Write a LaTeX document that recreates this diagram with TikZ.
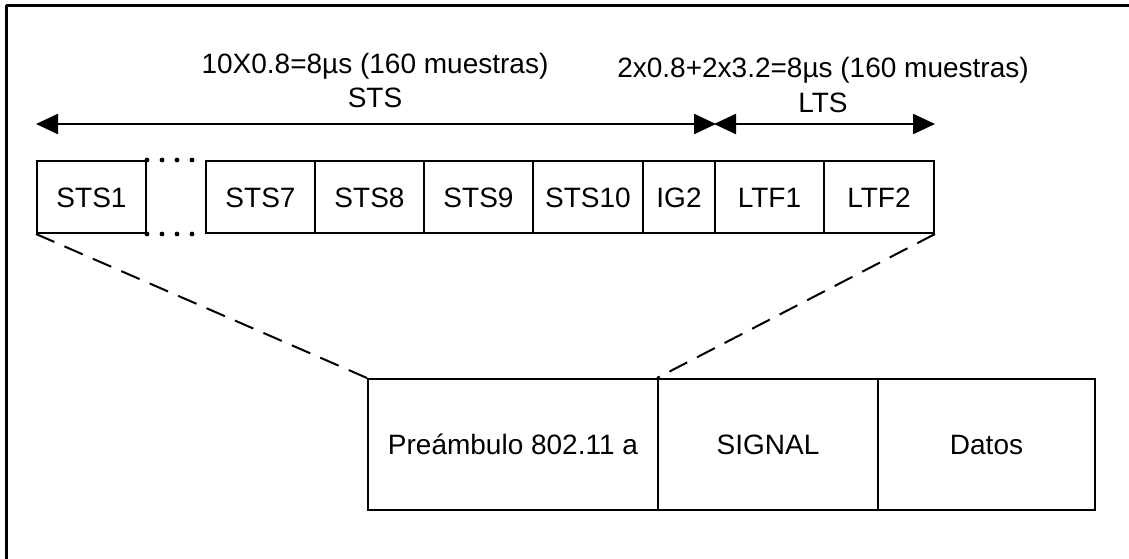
\documentclass[tikz,border=0pt]{standalone}
\usepackage{fontspec}
\setmainfont{Liberation Sans}
\usetikzlibrary{arrows.meta}

\tikzset{
  field/.style={draw, line width=1pt, inner sep=0pt, anchor=north west,
    minimum height=36pt, text height=10pt, text depth=0pt, font=\fontsize{14pt}{16pt}\selectfont},
  bigfield/.style={field, minimum height=65.5pt},
  label/.style={inner sep=0pt, anchor=base, font=\fontsize{14pt}{16pt}\selectfont},
  span/.style={line width=1.2pt, {Triangle[length=11pt,width=10pt]}-{Triangle[length=11pt,width=10pt]}},
  zoomline/.style={line width=1pt, dash pattern=on 10pt off 5.5pt},
  gapdots/.style={line width=2.4pt, line cap=round, dash pattern=on 0pt off 7.5pt},
}

\begin{document}
\begin{tikzpicture}[x=0.5pt, y=-0.5pt]
  \useasboundingbox (0,0) rectangle (1129,558);
  \clip (0,0) rectangle (1129,558);

  % outer frame, running off the right and bottom edges
  \draw[line width=1.5pt] (6,5) -- (1250,5);
  \draw[line width=1.5pt] (6,5) -- (6,650);

  % preamble fields
  \node[field, minimum width=54.5pt] (s1)  at (36,160)  {STS1};
  \node[field, minimum width=54.5pt] (s7)  at (205,160) {STS7};
  \node[field, minimum width=54.5pt] (s8)  at (314,160) {STS8};
  \node[field, minimum width=54.5pt] (s9)  at (423,160) {STS9};
  \node[field, minimum width=55pt]   (s10) at (532,160) {STS10};
  \node[field, minimum width=36pt]   (ig2) at (642,160) {IG2};
  \node[field, minimum width=54.5pt] (l1)  at (714,160) {LTF1};
  \node[field, minimum width=55pt]   (l2)  at (823,160) {LTF2};

  % omitted short symbols
  \draw[gapdots] (s1.north east) -- (s7.north west);
  \draw[gapdots] (s1.south east) -- (s7.south west);

  % duration spans
  \coordinate (ya) at (0,124);
  \draw[span] (s1.north west |- ya) -- (ig2.north east |- ya);
  \draw[span] (l1.north west |- ya) -- (l2.north east |- ya);

  \node[label] (tsts)  at (375,73)  {10X0.8=8µs (160 muestras)};
  \node[label] (nsts)  at (375,107) {STS};
  \node[label] (tlts)  at (823,77)  {2x0.8+2x3.2=8µs (160 muestras)};
  \node[label] (nlts)  at (823,112) {LTS};

  % frame fields
  \node[bigfield, minimum width=145pt]  (pre) at (367,378) {Preámbulo 802.11 a};
  \node[bigfield, minimum width=110pt]  (sig) at (657,378) {SIGNAL};
  \node[bigfield, minimum width=108.5pt] (dat) at (877,378) {Datos};

  % zoom lines from the preamble to its expansion
  \draw[zoomline] (s1.south west) -- (pre.north west);
  \draw[zoomline] (l2.south east) -- (sig.north west);
\end{tikzpicture}
\end{document}
